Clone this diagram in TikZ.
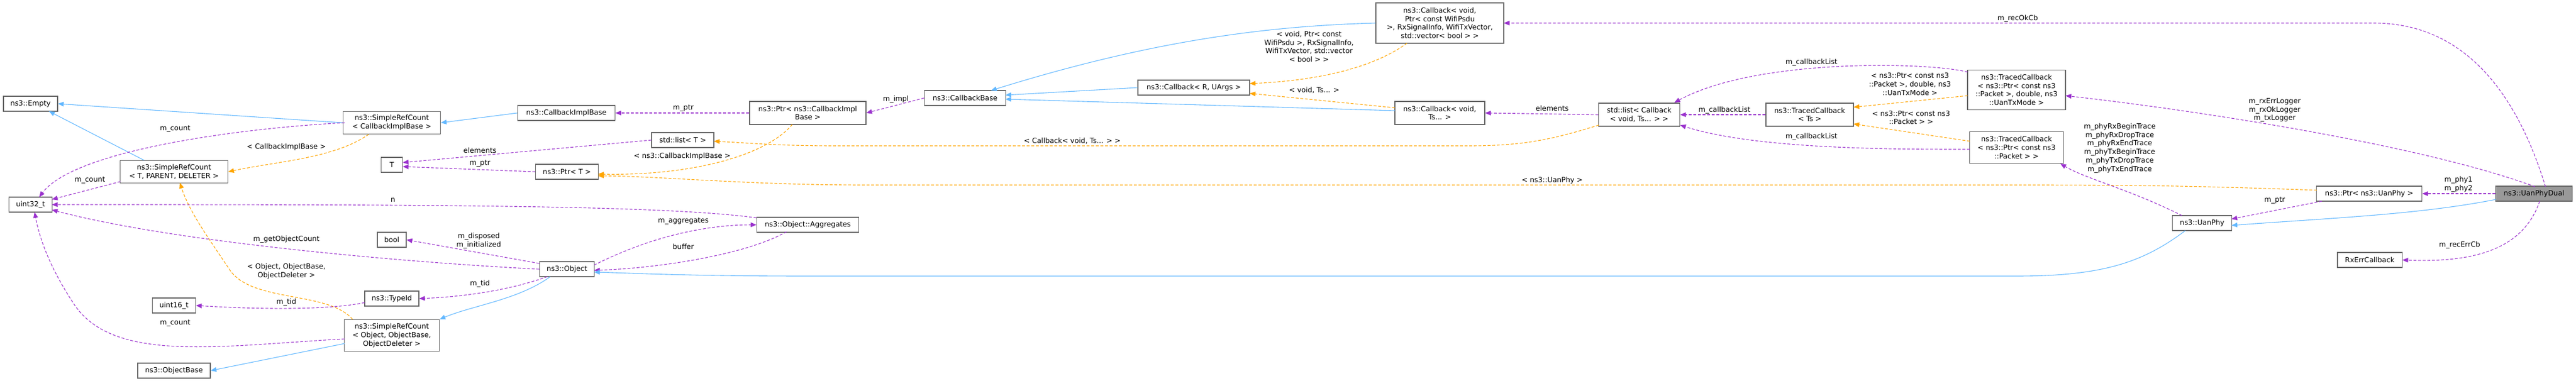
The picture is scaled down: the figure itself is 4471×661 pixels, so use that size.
\documentclass[tikz,border=0pt]{standalone}
\usepackage{fontspec}
\setmainfont{DejaVu Sans}
\usetikzlibrary{arrows.meta}
\definecolor{pur}{HTML}{9A32CD}
\definecolor{blu}{HTML}{63B8FF}
\definecolor{ora}{HTML}{FFA500}
\definecolor{bord}{HTML}{666666}
\definecolor{selg}{HTML}{999999}
\begin{document}
\begin{tikzpicture}[x=1pt,y=-1pt,
 every node/.style={font=\fontsize{12.3}{14.8}\selectfont},
 box/.style={draw=bord,line width=1.1pt,fill=white,align=center,inner sep=1pt},
 lbl/.style={align=center,inner sep=0pt},
 inh/.style={draw=blu,line width=1.1pt,-{Triangle[length=10pt,width=8pt]}},
 use/.style={draw=pur,line width=1.1pt,dash pattern=on 5pt off 3pt,-{Triangle[length=10pt,width=8pt]}},
 tpl/.style={draw=ora,line width=1.1pt,dash pattern=on 5pt off 3pt,-{Triangle[length=10pt,width=8pt]}}]
\useasboundingbox (0,0) rectangle (4471,661);
% nodes
\node[box,minimum width=94,minimum height=26] (empty) at (53,180) {ns3::Empty};
\node[box,minimum width=169,minimum height=39] (srcCIB) at (680,213) {ns3::SimpleRefCount\\< CallbackImplBase >};
\node[box,minimum width=169,minimum height=26] (cib) at (983,196) {ns3::CallbackImplBase};
\node[box,minimum width=187,minimum height=39] (srcTPD) at (302,298) {ns3::SimpleRefCount\\< T, PARENT, DELETER >};
\node[box,minimum width=37,minimum height=26] (T) at (680,286) {T};
\node[box,minimum width=109,minimum height=26] (ptrT) at (984,298) {ns3::Ptr< T >};
\node[box,minimum width=75,minimum height=26] (u32) at (53,355) {uint32\_t};
\node[box,minimum width=50,minimum height=26] (bool) at (680,416) {bool};
\node[box,minimum width=95,minimum height=26] (obj) at (984,467) {ns3::Object};
\node[box,minimum width=94,minimum height=26] (tid) at (680,518) {ns3::TypeId};
\node[box,minimum width=75,minimum height=26] (u16) at (302,530) {uint16\_t};
\node[box,minimum width=165,minimum height=55] (srcObj) at (680,582) {ns3::SimpleRefCount\\< Object, ObjectBase,\\ObjectDeleter >};
\node[box,minimum width=126,minimum height=26] (objBase) at (302,643) {ns3::ObjectBase};
\node[box,minimum width=202,minimum height=40] (ptrCIB) at (1402,196) {ns3::Ptr< ns3::CallbackImpl\\Base >};
\node[box,minimum width=141,minimum height=26] (cbBase) at (1675,170) {ns3::CallbackBase};
\node[box,minimum width=194,minimum height=26] (cbRU) at (2072,152) {ns3::Callback< R, UArgs >};
\node[box,minimum width=108,minimum height=26] (listT) at (1185,243) {std::list< T >};
\node[box,minimum width=177,minimum height=26] (agg) at (1402,390) {ns3::Object::Aggregates};
\node[box,minimum width=222,minimum height=70] (cbWifi) at (2499,40) {ns3::Callback< void,\\Ptr< const WifiPsdu\\>, RxSignalInfo, WifiTxVector,\\std::vector< bool > >};
\node[box,minimum width=156,minimum height=40] (cbTs) at (2499,196) {ns3::Callback< void,\\Ts... >};
\node[box,minimum width=141,minimum height=40] (listCb) at (2845,199) {std::list< Callback\\< void, Ts... > >};
\node[box,minimum width=152,minimum height=40] (tcTs) at (3141,199) {ns3::TracedCallback\\< Ts >};
\node[box,minimum width=170,minimum height=69] (tcMode) at (3500,156) {ns3::TracedCallback\\< ns3::Ptr< const ns3\\::Packet >, double, ns3\\::UanTxMode >};
\node[box,minimum width=163,minimum height=55] (tcPkt) at (3500,256) {ns3::TracedCallback\\< ns3::Ptr< const ns3\\::Packet > >};
\node[box,minimum width=183,minimum height=26] (ptrUan) at (4112,336) {ns3::Ptr< ns3::UanPhy >};
\node[box,fill=selg,minimum width=133,minimum height=26] (dual) at (4398,336) {ns3::UanPhyDual};
\node[box,minimum width=103,minimum height=26] (uan) at (3822,387) {ns3::UanPhy};
\node[box,minimum width=112,minimum height=26] (rxerr) at (4113,451) {RxErrCallback};
% edges
\draw[inh] (srcCIB.west) -- (empty.east);
\draw[inh] (250,278) -- (85,193);
\draw[inh] (cib.west) -- (srcCIB.east);
\draw[use] (598,213) .. controls (420,222) and (130,260) .. (68,342);
\draw[use] (209,315) -- (90,346);
\draw[tpl] (640,233) .. controls (580,275) and (480,280) .. (srcTPD.east);
\draw[tpl] (612,554) .. controls (570,505) and (440,525) .. (400,470) .. controls (360,410) and (330,370) .. (312,317);
\draw[use] (1313,378) .. controls (1150,355) and (700,355) .. (90,355);
\draw[use] (obj.west) .. controls (700,455) and (300,420) .. (90,364);
\draw[use] (936,457) -- (bool.east);
\draw[use] (950,480) .. controls (880,505) and (800,515) .. (tid.east);
\draw[use] (633,525) .. controls (560,540) and (420,535) .. (u16.east);
\draw[use] (598,588) .. controls (380,600) and (200,630) .. (130,530) .. controls (90,470) and (70,420) .. (60,368);
\draw[inh] (955,480) .. controls (900,520) and (820,530) .. (763,554);
\draw[inh] (598,596) -- (objBase.east);
\draw[use] (listT.west) -- (699,282);
\draw[use] (ptrT.west) -- (699,289);
\draw[use] (ptrCIB.west) -- (cib.east);
\draw[tpl] (1375,216) .. controls (1330,270) and (1200,305) .. (1038,302);
\draw[tpl] (4021,330) .. controls (3800,322) and (3700,321) .. (3500,321) -- (1500,321) .. controls (1300,321) and (1150,306) .. (1038,305);
\draw[use] (1031,460) .. controls (1150,400) and (1250,390) .. (agg.west);
\draw[use] (1365,402) .. controls (1300,440) and (1150,465) .. (1031,469);
\draw[use] (cbBase.west) -- (ptrCIB.east);
\draw[inh] (cbWifi.west) .. controls (2200,45) and (2000,70) .. (1720,157);
\draw[inh] (cbRU.west) -- (1745,165);
\draw[inh] (2421,192) -- (1745,172);
\draw[tpl] (2442,75) .. controls (2380,120) and (2280,140) .. (2169,145);
\draw[tpl] (2421,187) -- (2169,162);
\draw[use] (listCb.west) -- (cbTs.east);
\draw[tpl] (2775,217) .. controls (2700,240) and (2650,253) .. (2550,253) -- (1450,253) .. controls (1350,253) and (1300,248) .. (1239,245);
\draw[use] (tcTs.west) -- (listCb.east);
\draw[use] (3415,125) .. controls (3350,108) and (3050,100) .. (2906,178);
\draw[use] (3419,259) .. controls (3300,259) and (3050,260) .. (2916,217);
\draw[tpl] (3415,166) -- (3217,186);
\draw[tpl] (3419,245) -- (3217,215);
\draw[use] (4418,324) .. controls (4380,200) and (4300,40) .. (4120,40) -- (2610,40);
\draw[use] (4400,324) .. controls (4200,250) and (3800,190) .. (3585,166);
\draw[use] (3787,374) .. controls (3700,330) and (3620,310) .. (3576,284);
\draw[use] (dual.west) -- (ptrUan.east);
\draw[use] (4030,349) -- (3873,380);
\draw[inh] (4332,346) .. controls (4200,372) and (4050,378) .. (3873,391);
\draw[use] (4408,349) .. controls (4380,430) and (4300,456) .. (rxerr.east);
\draw[inh] (3793,400) .. controls (3720,455) and (3650,479) .. (3500,479) -- (1400,479) .. controls (1200,479) and (1100,474) .. (1031,472);
% labels
\node[lbl] (l1) at (304,224) {m\_count};
\node[lbl] (l2) at (156,313) {m\_count};
\node[lbl] (l3) at (497,255) {< CallbackImplBase >};
\node[lbl] (l4) at (833,261) {elements};
\node[lbl] (l5) at (833,284) {m\_ptr};
\node[lbl] (l6) at (682,347) {n};
\node[lbl] (l7) at (497,415) {m\_getObjectCount};
\node[lbl] (l8) at (831,418) {m\_disposed\\m\_initialized};
\node[lbl] (l9) at (497,471) {< Object, ObjectBase,\\ObjectDeleter >};
\node[lbl] (l10) at (833,492) {m\_tid};
\node[lbl] (l11) at (497,524) {m\_tid};
\node[lbl] (l12) at (304,561) {m\_count};
\node[lbl] (l13) at (1186,188) {m\_ptr};
\node[lbl] (l14) at (1555,172) {m\_impl};
\node[lbl] (l15) at (1184,271) {< ns3::CallbackImplBase >};
\node[lbl] (l16) at (1861,245) {< Callback< void, Ts... > >};
\node[lbl] (l17) at (1186,384) {m\_aggregates};
\node[lbl] (l18) at (1186,428) {buffer};
\node[lbl] (l19) at (2272,81) {< void, Ptr< const\\WifiPsdu >, RxSignalInfo,\\WifiTxVector, std::vector\\< bool > >};
\node[lbl] (l20) at (2281,157) {< void, Ts... >};
\node[lbl] (l21) at (2694,188) {elements};
\node[lbl] (l22) at (2694,313) {< ns3::UanPhy >};
\node[lbl] (l23) at (2993,191) {m\_callbackList};
\node[lbl] (l24) at (3144,108) {m\_callbackList};
\node[lbl] (l25) at (3144,237) {m\_callbackList};
\node[lbl] (l26) at (3315,146) {< ns3::Ptr< const ns3\\::Packet >, double, ns3\\::UanTxMode >};
\node[lbl] (l27) at (3317,204) {< ns3::Ptr< const ns3\\::Packet > >};
\node[lbl] (l28) at (3502,32) {m\_recOkCb};
\node[lbl] (l29) at (3948,191) {m\_rxErrLogger\\m\_rxOkLogger\\m\_txLogger};
\node[lbl] (l30) at (3679,257) {m\_phyRxBeginTrace\\m\_phyRxDropTrace\\m\_phyRxEndTrace\\m\_phyTxBeginTrace\\m\_phyTxDropTrace\\m\_phyTxEndTrace};
\node[lbl] (l31) at (4267,320) {m\_phy1\\m\_phy2};
\node[lbl] (l32) at (3948,348) {m\_ptr};
\node[lbl] (l33) at (4269,425) {m\_recErrCb};
\end{tikzpicture}
\end{document}
